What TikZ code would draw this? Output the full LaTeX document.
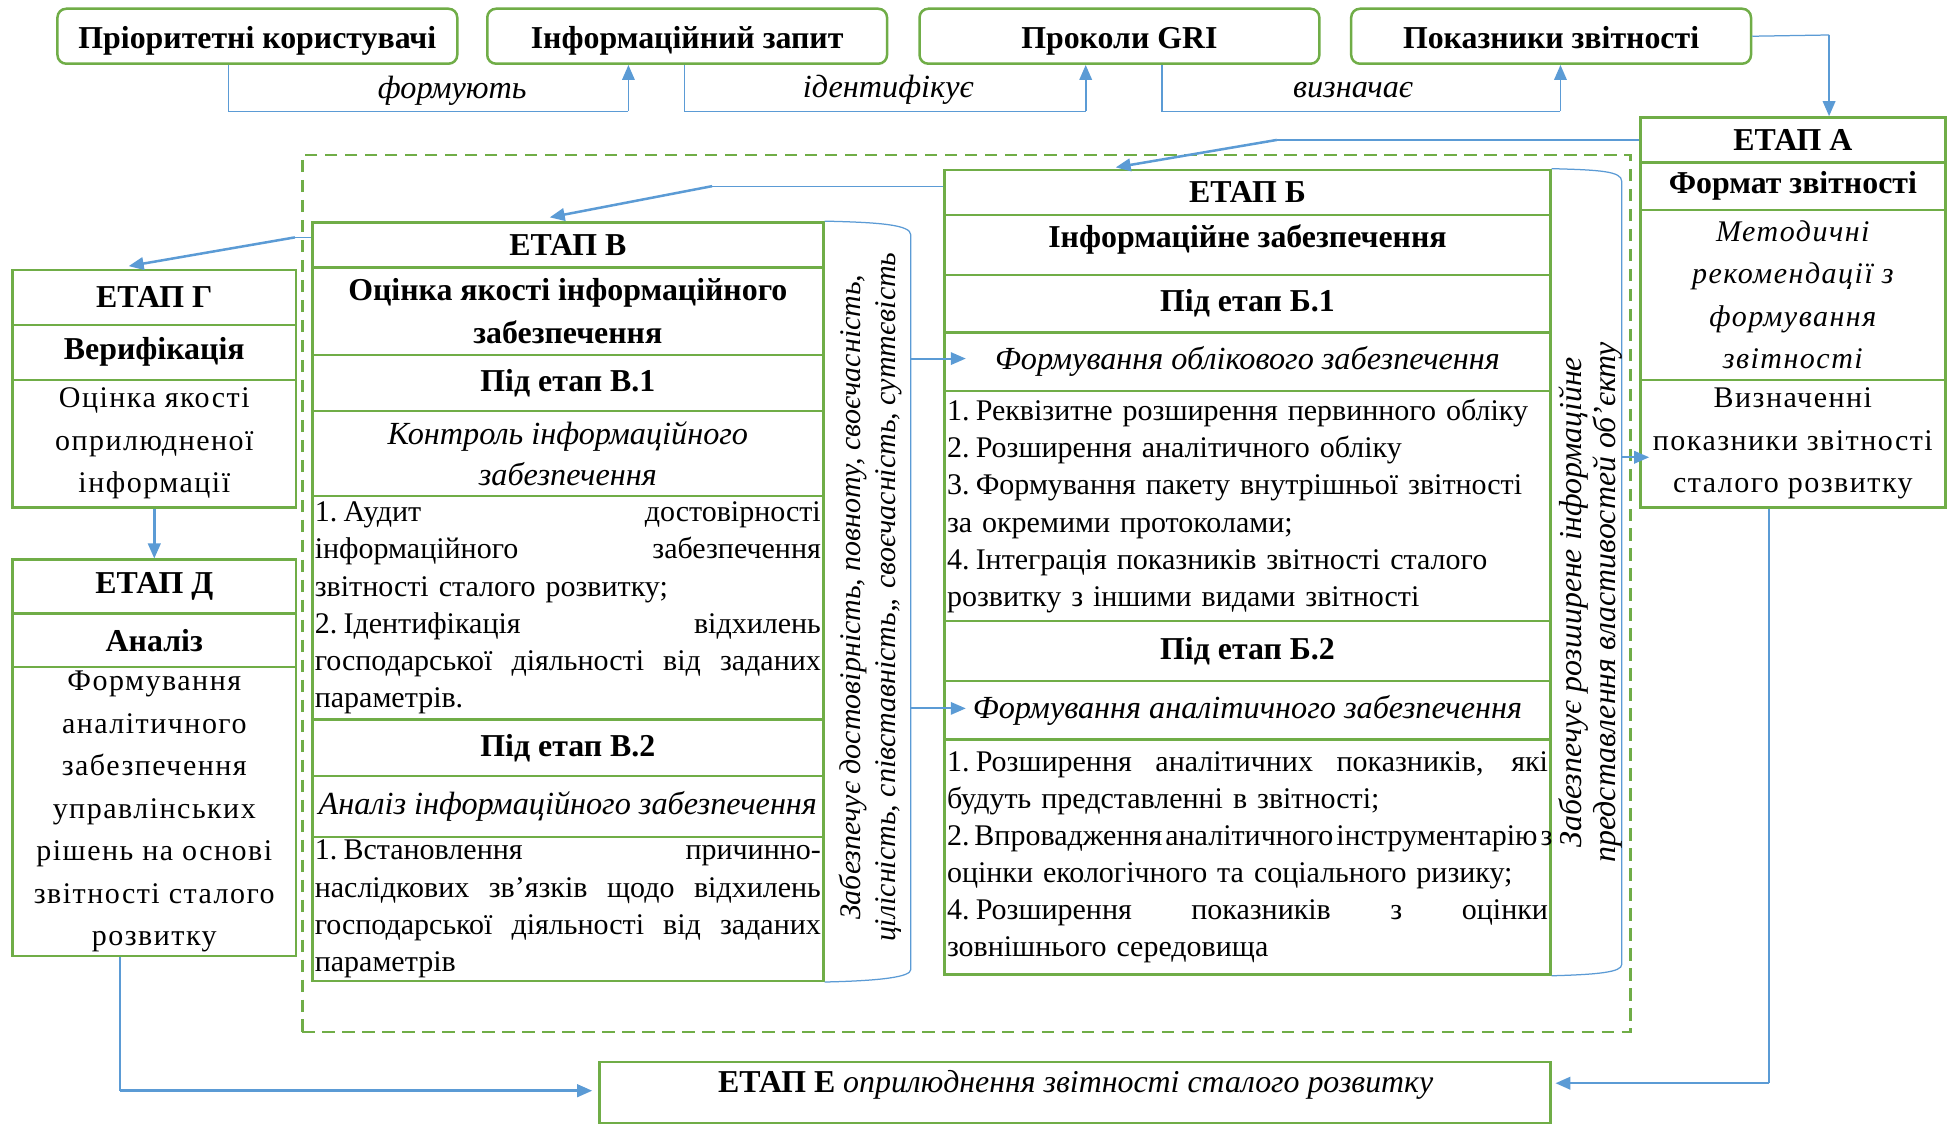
\documentclass[tikz,border=0pt]{standalone}
\usepackage{fontspec}
\setmainfont{Liberation Serif}
\newfontfamily\widefont{Liberation Serif}[LetterSpace=5]
\usetikzlibrary{arrows.meta}
\definecolor{grn}{HTML}{70AD47}
\definecolor{blu}{HTML}{5B9BD5}
\newcommand\fs{\fontsize{24}{34}\selectfont}
\newcommand\fb{\bfseries\fontsize{25.5}{34}\selectfont}
\newcommand\fit{\itshape\fontsize{25.8}{33}\selectfont}
\newcommand\fl{\fontsize{24}{29.7}\selectfont}
\newcommand\jl[2]{\makebox[#1][s]{\spaceskip=.25em plus 1fil minus .15em\relax #2}}
\newcommand\dn[1]{\raisebox{-3.5pt}[18pt][6pt]{#1}}
\newcommand\up[1]{\raisebox{4pt}[18pt][6pt]{#1}}
\newcommand\cellbox[7][]{%
  \node[cell,minimum width={(#5-#3)*1pt},minimum height={(#6-#4)*1pt},#1] (#2) at ({(#3+#5)/2},{(#4+#6)/2}) {#7};}
\tikzset{
  cell/.style={draw=grn,line width=2pt,inner sep=0pt,align=center,font=\fs},
  bcell/.style={font=\fb},
  icell/.style={font=\fit},
  topbox/.style={draw=grn,line width=2pt,rounded corners=7pt,inner sep=0pt,minimum width=320pt,minimum height=44pt,font=\fb},
  conn/.style={draw=blu,line width=1pt},
  tip/.style={-{Triangle[length=12pt,width=10pt]}},
  arrthin/.style={draw=blu,line width=1.5pt,tip},
  arrthick/.style={draw=blu,line width=2pt,tip},
  lbl/.style={font=\fit,inner sep=0pt},
  vtext/.style={rotate=90,align=center,inner sep=0pt,font=\itshape\fontsize{24}{28}\selectfont},
  listcell/.style={align=left,font=\fl},
  frame/.style={draw=grn,line width=2pt,dash pattern=on 10pt off 6pt}
}
\begin{document}
\begin{tikzpicture}[x=1pt,y=-1pt]
\useasboundingbox (0,0) rectangle (1568,900);
\fill[white] (0,0) rectangle (1568,900);

% dashed frame
\node[frame,minimum width=1063pt,minimum height=702pt,inner sep=0pt] (frm) at (773.5,475) {};

% top boxes
\node[topbox] (t1) at (206,29) {\dn{Пріоритетні користувачі}};
\node[topbox] (t2) at (550,29) {\dn{Інформаційний запит}};
\node[topbox] (t3) at (896,29) {\dn{Проколи GRI}};
\node[topbox] (t4) at (1241.5,29) {\dn{Показники звітності}};

% ETAP A
\cellbox[bcell]{Ahead}{1313}{94}{1557}{130}{ЕТАП А}
\cellbox[bcell]{Asub}{1313}{130}{1557}{168}{Формат звітності}
\cellbox[font=\widefont\itshape\fs]{Ait}{1313}{168}{1557}{304}{Методичні\\ рекомендації з\\ формування\\ звітності}
\cellbox[font=\widefont\fs]{Atext}{1313}{304}{1557}{406}{Визначенні\\ показники звітності\\ сталого розвитку}

% ETAP B (Б)
\cellbox[bcell]{Bhead}{756}{136}{1241}{172}{ЕТАП Б}
\cellbox[bcell]{Bsub}{756}{172}{1241}{220}{\up{Інформаційне забезпечення}}
\cellbox[bcell]{Bp1}{756}{220}{1241}{266}{Під етап Б.1}
\cellbox[icell]{Bf1}{756}{266}{1241}{313}{Формування облікового забезпечення}
\cellbox[listcell,text width=481pt]{Bl1}{756}{313}{1241}{497}{1.\hspace{5pt}Реквізитне розширення первинного обліку\\
2.\hspace{5pt}Розширення аналітичного обліку\\
3.\hspace{5pt}Формування пакету внутрішньої звітності\\
за окремими протоколами;\\
4.\hspace{5pt}Інтеграція показників звітності сталого\\
розвитку з іншими видами звітності}
\cellbox[bcell]{Bp2}{756}{497}{1241}{545}{Під етап Б.2}
\cellbox[icell]{Bf2}{756}{545}{1241}{592}{Формування аналітичного забезпечення}
\cellbox[listcell,text width=481pt]{Bl2}{756}{592}{1241}{780}{\jl{481pt}{1.\hspace{5pt}Розширення аналітичних показників, які}\\
будуть представленні в звітності;\\
\jl{481pt}{2.\hspace{4pt}Впровадження аналітичного інструментарію з}\\
оцінки екологічного та соціального ризику;\\
\jl{481pt}{4.\hspace{5pt}Розширення показників з оцінки}\\
зовнішнього середовища}

% ETAP V (В)
\cellbox[bcell]{Vhead}{250}{178}{659}{214}{ЕТАП В}
\cellbox[bcell]{Vsub}{250}{214}{659}{284}{Оцінка якості інформаційного\\ забезпечення}
\cellbox[bcell]{Vp1}{250}{284}{659}{329}{Під етап В.1}
\cellbox[icell]{Vc1}{250}{329}{659}{397}{Контроль інформаційного\\ забезпечення}
\cellbox[listcell,text width=405pt]{Vl1}{250}{397}{659}{576}{\jl{405pt}{1.\hspace{5pt}Аудит достовірності}\\
\jl{405pt}{інформаційного забезпечення}\\
звітності сталого розвитку;\\
\jl{405pt}{2.\hspace{5pt}Ідентифікація відхилень}\\
\jl{405pt}{господарської діяльності від заданих}\\
параметрів.}
\cellbox[bcell]{Vp2}{250}{576}{659}{621}{Під етап В.2}
\cellbox[icell]{Vc2}{250}{621}{659}{670}{Аналіз інформаційного забезпечення}
\cellbox[listcell,text width=405pt]{Vl2}{250}{670}{659}{785}{\jl{405pt}{1.\hspace{5pt}Встановлення причинно-}\\
\jl{405pt}{наслідкових зв’язків щодо відхилень}\\
\jl{405pt}{господарської діяльності від заданих}\\
параметрів}

% ETAP G (Г)
\cellbox[bcell]{Ghead}{10}{216}{237}{260}{ЕТАП Г}
\cellbox[bcell]{Gsub}{10}{260}{237}{304}{Верифікація}
\cellbox[font=\widefont\fs]{Gtext}{10}{304}{237}{406}{Оцінка якості\\ оприлюдненої\\ інформації}

% ETAP D (Д)
\cellbox[bcell]{Dhead}{10}{448}{237}{491}{ЕТАП Д}
\cellbox[bcell]{Dsub}{10}{491}{237}{534}{Аналіз}
\cellbox[font=\widefont\fs]{Dtext}{10}{534}{237}{765}{Формування\\ аналітичного\\ забезпечення\\ управлінських\\ рішень на основі\\ звітності сталого\\ розвитку}

% ETAP E (Е)
\cellbox{E}{480}{850}{1241}{899}{}
\node[inner sep=0pt,font=\fontsize{25.5}{30}\selectfont] (Etxt) at (861,868) {\textbf{ЕТАП Е} \textit{оприлюднення звітності сталого розвитку}};

% braces with vertical text
\draw[conn] (Vhead.north east) .. controls (705,178) and (729,180) .. (729,188) -- (729,776) .. controls (729,782) and (705,785) .. (Vl2.south east);
\node[vtext] (vtV) at (697,478) {Забезпечує достовірність, повноту, своєчасність,\\ цілісність, співставність,, своєчасність, суттєвість};
\draw[conn] (Bhead.north east) .. controls (1280,136) and (1298,137) .. (1298,145) -- (1298,772) .. controls (1298,778) and (1280,780) .. (Bl2.south east);
\node[vtext,font=\itshape\fontsize{25.5}{27}\selectfont] (vtB) at (1273,482) {Забезпечує розширене інформаційне\\ представлення властивостей об’єкту};

% top connectors
\coordinate (p1) at (183,89); \coordinate (p2) at (503,89);
\draw[conn] (t1.south -| p1) -- (p1) -- (p2);
\draw[arrthin] (p2) -- (p2 |- t2.south);
\node[lbl] (l1) at (362,73) {формують};
\coordinate (p3) at (548,89); \coordinate (p4) at (869,89);
\draw[conn] (t2.south -| p3) -- (p3) -- (p4);
\draw[arrthin] (p4) -- (p4 |- t3.south);
\node[lbl] (l2) at (711,72) {ідентифікує};
\coordinate (p5) at (930,89); \coordinate (p6) at (1249,89);
\draw[conn] (t3.south -| p5) -- (p5) -- (p6);
\draw[arrthin] (p6) -- (p6 |- t4.south);
\node[lbl] (l3) at (1083,72) {визначає};
\coordinate (p7) at (1464,28);
\draw[conn] (t4.east) -- (p7);
\draw[arrthin] (p7) -- (Ahead.north -| p7);

% stage links
\coordinate (k1) at (1022,112); \coordinate (k1e) at (893,134);
\draw[conn] (Ahead.west) -- (k1);
\draw[arrthick] (k1) -- (k1e);
\coordinate (k2) at (570,149); \coordinate (k2e) at (440,174);
\draw[conn] (Bhead.west |- k2) -- (k2);
\draw[arrthick] (k2) -- (k2e);
\coordinate (k3) at (236,190); \coordinate (k3e) at (103,213);
\draw[conn] (Vhead.west |- k3) -- (k3);
\draw[arrthick] (k3) -- (k3e);
\draw[arrthick] (Gtext.south) -- (Dhead.north);

% brace arrows
\coordinate (vb1) at (729,287); \coordinate (vb1e) at (773,287);
\coordinate (vb2) at (729,567); \coordinate (vb2e) at (773,567);
\draw[arrthin] (vb1) -- (vb1e);
\draw[arrthin] (vb2) -- (vb2e);
\coordinate (bb) at (1298,366); \coordinate (bbe) at (1320,366);
\draw[arrthin] (bb) -- (bbe);

% to E
\coordinate (d1) at (96,873);
\draw[conn] (Dtext.south -| d1) -- (d1);
\draw[arrthick,shorten >=5pt] (d1) -- (E.west |- d1);
\coordinate (a1) at (1416,867);
\draw[conn] (Atext.south -| a1) -- (a1);
\draw[arrthick,shorten >=3pt] (a1) -- (E.east |- a1);
\end{tikzpicture}
\end{document}
